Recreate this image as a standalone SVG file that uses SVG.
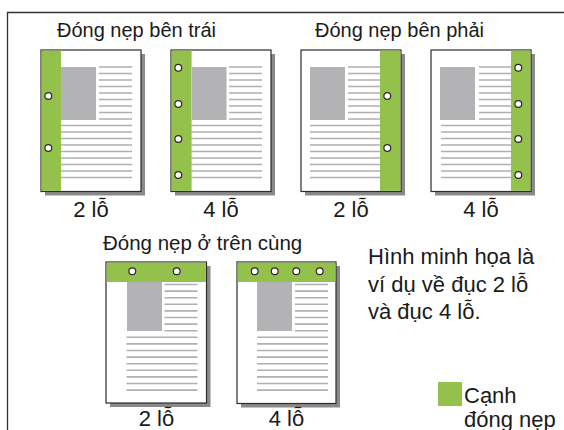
<svg xmlns="http://www.w3.org/2000/svg" xmlns:xlink="http://www.w3.org/1999/xlink" width="564" height="430" viewBox="0 0 564 430">
<defs>
<style>
.frame{fill:none;stroke:#333;stroke-width:1.3}
.shadow{fill:#8a8a8a}
.page{fill:#fff;stroke:#2b2b2b;stroke-width:1.2}
.bind{fill:#94c04c}
.pic{fill:#b3b3b5}
.ln{stroke:#b0b0b0;stroke-width:1.6}
.hole{fill:#fff;stroke:#2b2b2b;stroke-width:1.2}
.t{font-family:"Liberation Sans",Arial,sans-serif;fill:#1a1a1a}
.title{font-size:20px}
.lbl{font-size:22px;text-anchor:middle}
.note{font-size:22px}
</style>
<g id="linesL">
<path class="ln" d="M58 17H91M58 23.5H91M58 30H91M58 36.5H91M58 43H91M58 49.5H91M58 56H91M58 62.5H91M58 69H91M20 75.5H91M20 82H91M20 88.5H91M20 95H91M20 101.5H91M20 108H91M20 114.5H91M20 121H91M20 127.5H91"/>
</g>
<g id="linesR">
<path class="ln" d="M47 17H79M47 23.5H79M47 30H79M47 36.5H79M47 43H79M47 49.5H79M47 56H79M47 62.5H79M47 69H79M9 75.5H79M9 82H79M9 88.5H79M9 95H79M9 101.5H79M9 108H79M9 114.5H79M9 121H79M9 127.5H79"/>
</g>
<g id="linesT">
<path class="ln" d="M58 22.5H91M58 29.1H91M58 35.7H91M58 42.3H91M58 48.9H91M58 55.5H91M58 62.1H91M58 68.7H91M20 75.3H91M20 81.9H91M20 88.5H91M20 95.1H91M20 101.7H91M20 108.3H91M20 114.9H91M20 121.5H91M20 128.1H91"/>
</g>
</defs>

<path class="frame" d="M7.5 430V12.5H564"/>

<g id="title-left"><text class="t title" x="57" y="37">Đóng nẹp bên trái</text></g>
<g id="title-right"><text class="t title" x="315" y="37">Đóng nẹp bên phải</text></g>
<g id="title-top"><text class="t title" x="103" y="250" style="font-size:20.5px">Đóng nẹp ở trên cùng</text></g>

<g id="page-left-2" transform="translate(41,50)">
<rect class="shadow" x="4" y="4" width="100" height="141.5"/>
<rect class="page" x="0" y="0" width="100" height="141.5"/>
<rect class="bind" x="0.6" y="0.6" width="19.4" height="140.3"/>
<rect class="pic" x="20" y="17" width="35" height="53"/>
<use xlink:href="#linesL"/>
<circle class="hole" cx="7.3" cy="46" r="3.4"/>
<circle class="hole" cx="7.3" cy="98" r="3.4"/>
</g>
<g id="page-left-4" transform="translate(171,50)">
<rect class="shadow" x="4" y="4" width="100" height="141.5"/>
<rect class="page" x="0" y="0" width="100" height="141.5"/>
<rect class="bind" x="0.6" y="0.6" width="20" height="140.3"/>
<rect class="pic" x="21" y="17" width="34.5" height="53"/>
<use xlink:href="#linesL"/>
<circle class="hole" cx="7.3" cy="17.7" r="3.4"/>
<circle class="hole" cx="7.3" cy="54" r="3.4"/>
<circle class="hole" cx="7.3" cy="89" r="3.4"/>
<circle class="hole" cx="7.3" cy="125" r="3.4"/>
</g>
<g id="page-right-2" transform="translate(301,50)">
<rect class="shadow" x="4" y="4" width="100" height="141.5"/>
<rect class="page" x="0" y="0" width="100" height="141.5"/>
<rect class="bind" x="79" y="0.6" width="20.4" height="140.3"/>
<rect class="pic" x="9" y="17" width="35" height="53"/>
<use xlink:href="#linesR"/>
<circle class="hole" cx="86.3" cy="46" r="3.4"/>
<circle class="hole" cx="86.3" cy="98" r="3.4"/>
</g>
<g id="page-right-4" transform="translate(431,50)">
<rect class="shadow" x="4" y="4" width="100" height="141.5"/>
<rect class="page" x="0" y="0" width="100" height="141.5"/>
<rect class="bind" x="80" y="0.6" width="19.4" height="140.3"/>
<rect class="pic" x="9" y="17" width="35" height="53"/>
<g transform="translate(1,0)"><use xlink:href="#linesR"/></g>
<circle class="hole" cx="87.3" cy="17.7" r="3.4"/>
<circle class="hole" cx="87.3" cy="54" r="3.4"/>
<circle class="hole" cx="87.3" cy="89" r="3.4"/>
<circle class="hole" cx="87.3" cy="125" r="3.4"/>
</g>

<g id="lbl1"><text class="t lbl" x="91" y="217">2 lỗ</text></g>
<g id="lbl2"><text class="t lbl" x="221" y="217">4 lỗ</text></g>
<g id="lbl3"><text class="t lbl" x="351" y="217">2 lỗ</text></g>
<g id="lbl4"><text class="t lbl" x="481" y="217">4 lỗ</text></g>

<g id="page-top-2" transform="translate(106,262)">
<rect class="shadow" x="4" y="4" width="100.5" height="141"/>
<rect class="page" x="0" y="0" width="100.5" height="141"/>
<rect class="bind" x="0.6" y="0.6" width="99.3" height="19.4"/>
<rect class="pic" x="21" y="20" width="35" height="49"/>
<g transform="translate(0.5,0)"><use xlink:href="#linesT"/></g>
<circle class="hole" cx="26.3" cy="9.3" r="3.4"/>
<circle class="hole" cx="70.7" cy="9.3" r="3.4"/>
</g>
<g id="page-top-4" transform="translate(237,262)">
<rect class="shadow" x="4" y="4" width="99" height="141.5"/>
<rect class="page" x="0" y="0" width="99" height="141.5"/>
<rect class="bind" x="0.6" y="0.6" width="97.8" height="19.4"/>
<rect class="pic" x="20" y="20" width="35" height="49"/>
<use xlink:href="#linesT"/>
<circle class="hole" cx="17.7" cy="9.3" r="3.4"/>
<circle class="hole" cx="37.7" cy="9.3" r="3.4"/>
<circle class="hole" cx="59.3" cy="9.3" r="3.4"/>
<circle class="hole" cx="82.7" cy="9.3" r="3.4"/>
</g>

<g id="lbl5"><text class="t lbl" x="156.5" y="426">2 lỗ</text></g>
<g id="lbl6"><text class="t lbl" x="286.5" y="426">4 lỗ</text></g>

<g id="note">
<text class="t note" x="368" y="264">Hình minh họa là</text>
<text class="t note" x="368" y="291.5">ví dụ về đục 2 lỗ</text>
<text class="t note" x="368" y="319">và đục 4 lỗ.</text>
</g>

<g id="legend">
<rect class="bind" x="438" y="382" width="24" height="24"/>
<text class="t note" x="464" y="403">Cạnh</text>
<text class="t note" x="464" y="427">đóng nẹp</text>
</g>
</svg>
